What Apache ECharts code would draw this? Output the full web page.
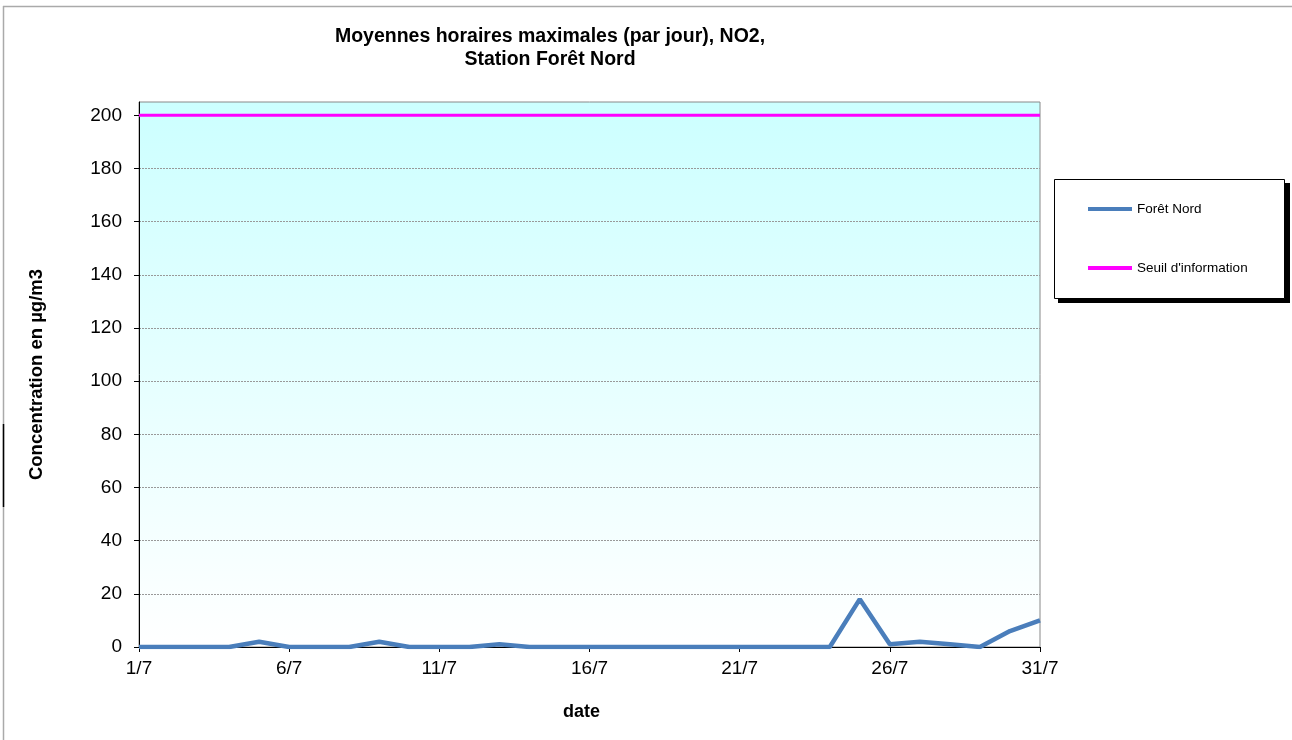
<!DOCTYPE html>
<html>
<head>
<meta charset="utf-8">
<script src="https://cdn.jsdelivr.net/npm/echarts@6/dist/echarts.min.js"></script>
<style>
  html, body { margin: 0; padding: 0; background: #fff; }
  #chart { width: 1292px; height: 740px; }
</style>
</head>
<body>
<div id="chart"></div>
<script>
// jours de juillet
const days = Array.from({ length: 31 }, (_, i) => `${i + 1}/7`);

// maxima horaires journaliers NO2, Forêt Nord (µg/m3)
const foretNord = [
  0, 0, 0, 0, 2, 0, 0, 0, 2, 0,
  0, 0, 1, 0, 0, 0, 0, 0, 0, 0,
  0, 0, 0, 0, 18, 1, 2, 1, 0, 6,
  10,
];

// seuil d'information
const seuil = days.map(() => 200);

const yTicks = [0, 20, 40, 60, 80, 100, 120, 140, 160, 180, 200];

const FONT = "'Liberation Sans', Arial, sans-serif";

const chart = echarts.init(document.getElementById("chart"));

const option = {
  backgroundColor: "#fff",
  animation: false,
  textStyle: { fontFamily: FONT },
  title: {
    text: "Moyennes horaires maximales (par jour), NO2,\nStation Forêt Nord",
    left: 545,
    top: 20,
    textAlign: "center",
    textStyle: {
      fontFamily: FONT,
      fontSize: 19.5,
      fontWeight: "bold",
      color: "#000",
      lineHeight: 23,
    },
  },
  legend: {
    orient: "vertical",
    left: 1088,
    top: 202,
    padding: 0,
    itemGap: 45,
    itemWidth: 44,
    itemHeight: 4,
    icon: "rect",
    textStyle: { fontFamily: FONT, fontSize: 13.5, lineHeight: 14, color: "#000" },
    data: ["Forêt Nord", "Seuil d'information"],
    z: 10,
  },
  grid: {
    left: 139,
    right: 252,
    top: 102,
    bottom: 93,
    show: true,
    borderColor: "#888",
    borderWidth: 1,
    backgroundColor: new echarts.graphic.LinearGradient(0, 0, 0, 1, [
      { offset: 0, color: "#ccffff" },
      { offset: 1, color: "#ffffff" },
    ]),
  },
  xAxis: {
    type: "category",
    data: days,
    boundaryGap: false,
    name: "date",
    nameLocation: "middle",
    nameGap: 56,
    nameTextStyle: {
      fontFamily: FONT, fontSize: 18, fontWeight: "bold", color: "#000",
      padding: [0, 16, 0, 0],
    },
    axisLine: { lineStyle: { color: "#000", width: 1 } },
    axisTick: { show: true, interval: 4, length: 5, lineStyle: { color: "#000" } },
    axisLabel: { interval: 4, margin: 12, fontSize: 19, color: "#000", fontFamily: FONT },
    splitLine: { show: false },
  },
  yAxis: {
    type: "value",
    min: 0,
    max: 205,
    interval: 20,
    name: "Concentration en µg/m3",
    nameLocation: "middle",
    nameGap: 93,
    nameTextStyle: { fontFamily: FONT, fontSize: 18.5, fontWeight: "bold", color: "#000" },
    axisLine: { show: true, lineStyle: { color: "#000", width: 1 } },
    axisTick: { show: true, length: 5, customValues: yTicks, lineStyle: { color: "#000" } },
    axisLabel: {
      margin: 17,
      fontSize: 19,
      color: "#000",
      fontFamily: FONT,
      customValues: yTicks,
    },
    splitLine: { show: true, lineStyle: { color: "#999", width: 1, type: [2, 1] } },
  },
  series: [
    {
      name: "Forêt Nord",
      type: "line",
      data: foretNord,
      symbol: "none",
      lineStyle: { color: "#4a7ebb", width: 4.5 },
      itemStyle: { color: "#4a7ebb" },
      z: 3,
    },
    {
      name: "Seuil d'information",
      type: "line",
      data: seuil,
      symbol: "none",
      lineStyle: { color: "#ff00ff", width: 3 },
      itemStyle: { color: "#ff00ff" },
      z: 2,
    },
  ],
  graphic: [
    // cadre extérieur (haut et gauche)
    {
      type: "line",
      shape: { x1: 3, y1: 6.5, x2: 1292, y2: 6.5 },
      style: { stroke: "#aaa", lineWidth: 1.5 },
      silent: true,
    },
    {
      type: "line",
      shape: { x1: 3.5, y1: 6, x2: 3.5, y2: 740 },
      style: { stroke: "#aaa", lineWidth: 1.5 },
      silent: true,
    },
    {
      type: "line",
      shape: { x1: 3.5, y1: 424, x2: 3.5, y2: 507 },
      style: { stroke: "#000", lineWidth: 1.5 },
      silent: true,
    },
    // boîte de légende avec ombre
    {
      type: "rect",
      shape: { x: 1058, y: 183, width: 232, height: 120 },
      style: { fill: "#000" },
      silent: true,
      z: 5,
    },
    {
      type: "rect",
      shape: { x: 1054.5, y: 179.5, width: 230, height: 119 },
      style: { fill: "#fff", stroke: "#000", lineWidth: 1 },
      silent: true,
      z: 6,
    },
  ],
};

chart.setOption(option);

window.addEventListener("resize", () => chart.resize());
</script>
</body>
</html>
